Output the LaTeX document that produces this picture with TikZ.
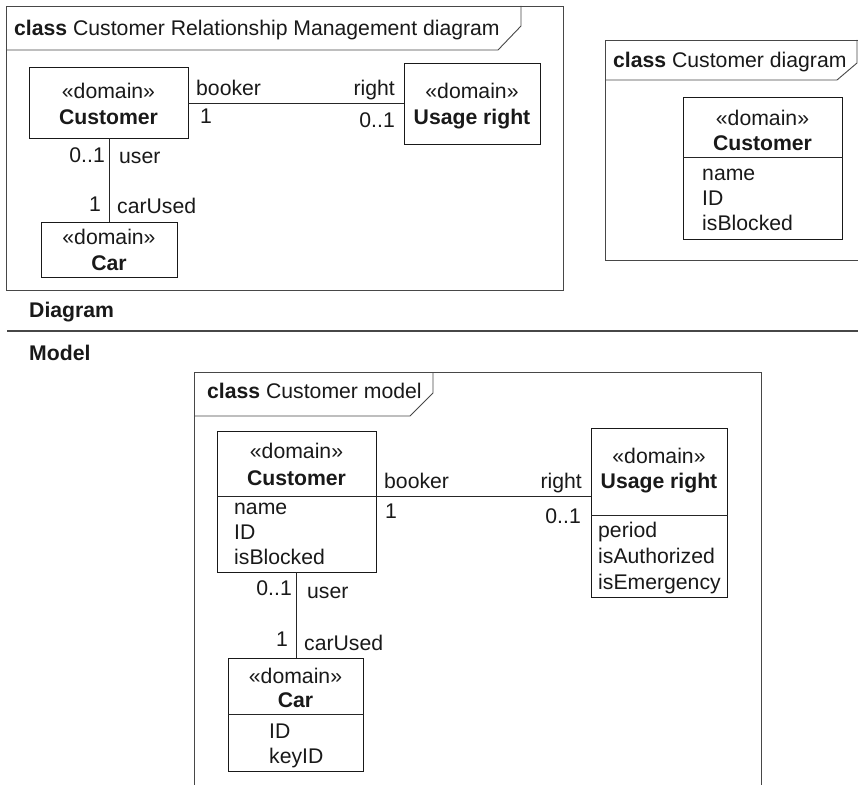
\documentclass[tikz,border=0pt]{standalone}
\usepackage{fontspec}
\setmainfont{Liberation Sans}
\newcommand\umlfs{\fontsize{21.2}{25}\selectfont}
\tikzset{
  frameline/.style={draw=black!72, line width=0.9pt},
  cls/.style={draw=black!90, line width=1.4pt, inner sep=0pt, anchor=north west},
  divider/.style={draw=black!85, line width=1pt},
  assoc/.style={draw=black!85, line width=1pt},
  txt/.style={inner sep=0pt, font=\umlfs, text=black!90},
}
\begin{document}
\begin{tikzpicture}[x=1pt,y=-1pt]
\useasboundingbox (0,0) rectangle (858,784);
\clip (0,0) rectangle (858,784);
\fill[white] (0,0) rectangle (858,784);

% ---------- Frame 1 ----------
\draw[frameline] (6,6) rectangle (563,290);
\draw[frameline] (6,50) -- (498,50) -- (521,26) -- (521,6);
\node[txt, anchor=base west] (t1) at (14,36) {\textbf{class} Customer Relationship Management diagram};

\node[cls, minimum width=159pt, minimum height=71pt] (c1) at (29,67) {};
\node[txt, anchor=base] (c1s) at (108.5,98) {«domain»};
\node[txt, anchor=base] (c1n) at (108.5,124) {\textbf{Customer}};

\node[cls, minimum width=136pt, minimum height=81pt] (u1) at (404,63) {};
\node[txt, anchor=base] (u1s) at (472,98) {«domain»};
\node[txt, anchor=base] (u1n) at (472,124) {\textbf{Usage right}};

\node[cls, minimum width=136pt, minimum height=55pt] (k1) at (41,222) {};
\node[txt, anchor=base] (k1s) at (109,244) {«domain»};
\node[txt, anchor=base] (k1n) at (109,270) {\textbf{Car}};

\coordinate (a1) at (188,103);
\draw[assoc] (a1) -- (a1 -| u1.west);
\coordinate (v1) at (109,138);
\draw[assoc] (v1) -- (v1 |- k1.north);

\node[txt, anchor=base west] (l1a) at (196,95) {booker};
\node[txt, anchor=base west] (l1b) at (200,123) {1};
\node[txt, anchor=base east] (l1c) at (395,95) {right};
\node[txt, anchor=base east] (l1d) at (395,127) {0..1};
\node[txt, anchor=base east] (l1e) at (105,162) {0..1};
\node[txt, anchor=base west] (l1f) at (119,163) {user};
\node[txt, anchor=base east] (l1g) at (101,211) {1};
\node[txt, anchor=base west] (l1h) at (117,213) {carUsed};

% ---------- Frame 2 ----------
\draw[frameline] (900,40) -- (605,40) -- (605,260) -- (900,260);
\draw[frameline] (605,80) -- (837,80) -- (857,63) -- (857,40);
\node[txt, anchor=base west] (t2) at (613,67) {\textbf{class} Customer diagram};

\node[cls, minimum width=159pt, minimum height=142pt] (c2) at (683,97) {};
\coordinate (c2d) at (683,157);
\draw[divider] (c2d) -- (c2d -| c2.east);
\node[txt, anchor=base] (c2s) at (762.5,125) {«domain»};
\node[txt, anchor=base] (c2n) at (762.5,150) {\textbf{Customer}};
\node[txt, anchor=base west] (c2a) at (702,180) {name};
\node[txt, anchor=base west] (c2b) at (702,205) {ID};
\node[txt, anchor=base west] (c2c) at (702,230) {isBlocked};

% ---------- Separator ----------
\node[txt, anchor=base west] (sd) at (29,317) {\textbf{Diagram}};
\coordinate (s1) at (7,331);
\coordinate (s2) at (858,331);
\draw[frameline, line width=1.1pt] (s1) -- (s2);
\node[txt, anchor=base west] (sm) at (29,360) {\textbf{Model}};

% ---------- Frame 3 ----------
\draw[frameline] (194,800) -- (194,372) -- (761,372) -- (761,800);
\draw[frameline] (194,416) -- (410,416) -- (433,393) -- (433,372);
\node[txt, anchor=base west] (t3) at (207,398) {\textbf{class} Customer model};

\node[cls, minimum width=159pt, minimum height=141pt] (c3) at (217,431) {};
\coordinate (c3d) at (217,496);
\draw[divider] (c3d) -- (c3d -| c3.east);
\node[txt, anchor=base] (c3s) at (296.5,458) {«domain»};
\node[txt, anchor=base] (c3n) at (296.5,485) {\textbf{Customer}};
\node[txt, anchor=base west] (c3a) at (234,514) {name};
\node[txt, anchor=base west] (c3b) at (234,539) {ID};
\node[txt, anchor=base west] (c3c) at (234,564) {isBlocked};

\node[cls, minimum width=136pt, minimum height=169pt] (u3) at (591,428) {};
\coordinate (u3d) at (591,515);
\draw[divider] (u3d) -- (u3d -| u3.east);
\node[txt, anchor=base] (u3s) at (659,463) {«domain»};
\node[txt, anchor=base] (u3n) at (659,488) {\textbf{Usage right}};
\node[txt, anchor=base west] (u3a) at (598,537) {period};
\node[txt, anchor=base west] (u3b) at (598,563) {isAuthorized};
\node[txt, anchor=base west] (u3c) at (598,589) {isEmergency};

\node[cls, minimum width=135pt, minimum height=113pt] (k3) at (228,658) {};
\coordinate (k3d) at (228,714);
\draw[divider] (k3d) -- (k3d -| k3.east);
\node[txt, anchor=base] (k3s) at (295.5,683) {«domain»};
\node[txt, anchor=base] (k3n) at (295.5,707) {\textbf{Car}};
\node[txt, anchor=base west] (k3a) at (269,738) {ID};
\node[txt, anchor=base west] (k3b) at (269,763) {keyID};

\draw[assoc] (c3d -| c3.east) -- (c3d -| u3.west);
\coordinate (v3) at (296,572);
\draw[assoc] (v3) -- (v3 |- k3.north);

\node[txt, anchor=base west] (l3a) at (384,488) {booker};
\node[txt, anchor=base west] (l3b) at (385,518) {1};
\node[txt, anchor=base east] (l3c) at (582,488) {right};
\node[txt, anchor=base east] (l3d) at (581,523) {0..1};
\node[txt, anchor=base east] (l3e) at (292,595) {0..1};
\node[txt, anchor=base west] (l3f) at (307,598) {user};
\node[txt, anchor=base east] (l3g) at (288,646) {1};
\node[txt, anchor=base west] (l3h) at (304,650) {carUsed};
\end{tikzpicture}
\end{document}
